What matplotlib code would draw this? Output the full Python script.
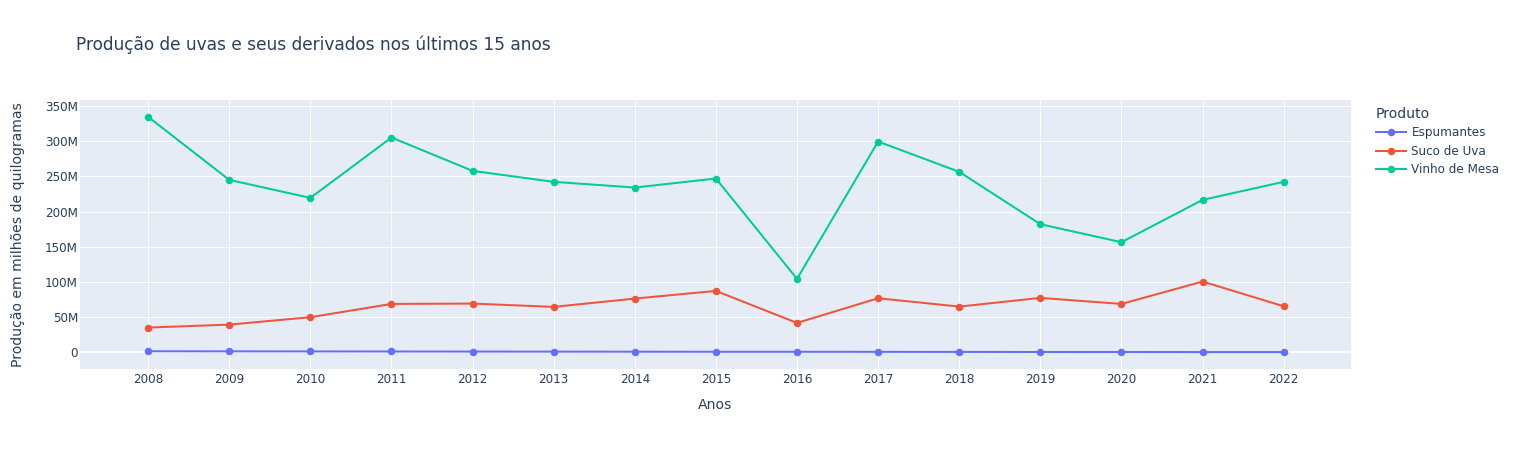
import matplotlib.pyplot as plt
from matplotlib.ticker import FuncFormatter, MultipleLocator

# dados (milhoes de kg)
anos = list(range(2008, 2023))
espumantes = [1.4, 1.3, 1.2, 1.1, 1.0, 0.9, 0.8, 0.7, 0.7, 0.6, 0.5, 0.4, 0.4, 0.3, 0.3]
suco_uva = [35.1, 39.3, 49.8, 68.7, 69.2, 64.5, 76.3, 87.2, 41.7, 76.8, 64.9, 77.3, 68.7, 100.5, 65.4]
vinho_mesa = [334.6, 245.0, 219.4, 305.2, 257.8, 242.2, 234.1, 246.9, 104.3, 299.5, 256.4, 182.0, 156.4, 216.6, 242.2]

produtos = ['Espumantes', 'Suco de Uva', 'Vinho de Mesa']
series = [espumantes, suco_uva, vinho_mesa]
cores = ['#636efa', '#EF553B', '#00cc96']

txt = '#2a3f5f'
W, H = 1522, 450
fig = plt.figure(figsize=(W / 100, H / 100), dpi=100)
ax = fig.add_axes([80 / W, 1 - 369.3 / H, (1351 - 80) / W, (369.3 - 100) / H])
ax.set_facecolor('#E5ECF6')

for nome, vals, cor in zip(produtos, series, cores):
    ax.plot(anos, [v * 1e6 for v in vals], '-o', color=cor, lw=1.45, ms=4.4,
            label=nome, zorder=3)

ax.set_xlim(2007.16, 2022.83)
ax.set_ylim(-24.2e6, 358.5e6)
ax.set_xticks(anos)
ax.yaxis.set_major_locator(MultipleLocator(50e6))
ax.yaxis.set_major_formatter(FuncFormatter(lambda v, p: '0' if v == 0 else '%dM' % round(v / 1e6)))
ax.grid(color='white', lw=0.75)
ax.axhline(0, color='white', lw=1.5, zorder=2)
ax.set_axisbelow(True)
for s in ax.spines.values():
    s.set_visible(False)
ax.tick_params(length=0, labelsize=8.64, labelcolor=txt)
ax.tick_params(axis='x', pad=3)
ax.tick_params(axis='y', pad=1.5)

fig.text(76 / W, 1 - 45 / H, 'Produção de uvas e seus derivados nos últimos 15 anos',
         fontsize=12.24, color=txt, va='center', ha='left')
fig.text(715.5 / W, 1 - 405 / H, 'Anos', fontsize=10.08, color=txt, ha='center', va='center')
fig.text(18 / W, 1 - 235 / H, 'Produção em milhões de quilogramas', fontsize=10.08, color=txt,
         rotation=90, ha='center', va='center')

leg = ax.legend(loc='upper left', bbox_to_anchor=(1376 / W, 1 - 107 / H),
                bbox_transform=fig.transFigure, frameon=False, title='Produto',
                fontsize=8.64, title_fontsize=10.08, alignment='left', borderpad=0,
                handlelength=2.5, handletextpad=0.45, labelspacing=0.45, borderaxespad=0)
for t in leg.get_texts():
    t.set_color(txt)
leg.get_title().set_color(txt)

fig.savefig('out.png', dpi=100)
